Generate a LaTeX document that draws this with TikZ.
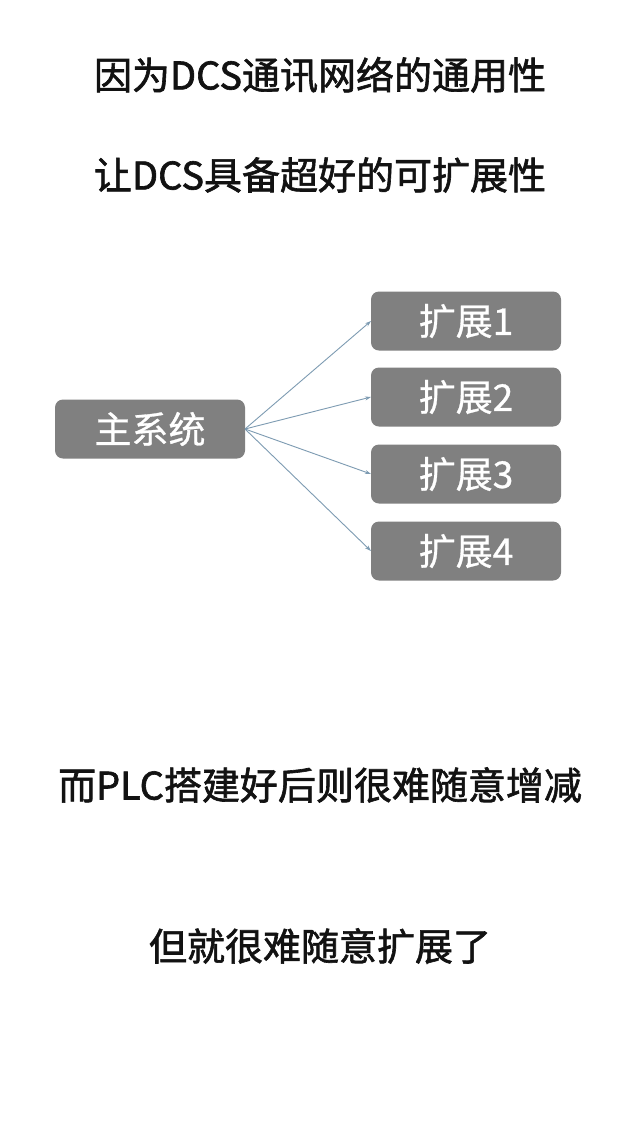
\documentclass[tikz,border=0pt]{standalone}
\usepackage{tikz}
\usepackage{tkz-graph}
\usepackage{xcolor}
\usepackage{fontspec}
\setmainfont{Noto Sans CJK SC}
\newfontfamily\headfont[FakeBold=1.6]{Noto Sans CJK SC}
\newfontfamily\boxfont[FakeBold=0.8]{Noto Sans CJK SC}
\usetikzlibrary{arrows.meta}
\definecolor{boxgray}{RGB}{128,128,128}
\definecolor{arrowblue}{RGB}{125,155,178}
\definecolor{textblack}{RGB}{18,18,18}

\begin{document}
\begin{tikzpicture}[x=1pt, y=-1pt,
	headline/.style={text=textblack, inner sep=0pt,
		font=\headfont\fontsize{38}{40}\selectfont}]
			\useasboundingbox[fill=white] (0,0) rectangle (640,1138);
			
			\node[headline] (line1) at (320,75) {因为DCS通讯网络的通用性};
			\node[headline] (line2) at (320,175) {让DCS具备超好的可扩展性};
			\node[headline] (line3) at (320,785) {而PLC搭建好后则很难随意增减};
			\node[headline] (line4) at (320,946) {但就很难随意扩展了};
			
			\SetVertexNormal[
			Shape 		= rectangle,
			LineWidth 	= 0pt,
			FillColor 	= boxgray,
			TextColor 	= white]
			\tikzset{VertexStyle/.append style={draw=none, rounded corners=8pt,
				minimum width=190pt, minimum height=59pt, inner sep=0pt,
				font=\boxfont\fontsize{37}{39}\selectfont}}
			\SetUpEdge[
			lw 		= 0.9pt,
			color 	= arrowblue]
			\tikzset{EdgeStyle/.append style={-{Stealth[length=6pt, width=4pt]}}}
			
			\Vertex[x=150, y=429, L={主系统}]{main}
			\Vertex[x=466, y=321, L={扩展1}]{ext1}
			\Vertex[x=466, y=397, L={扩展2}]{ext2}
			\Vertex[x=466, y=474, L={扩展3}]{ext3}
			\Vertex[x=466, y=551, L={扩展4}]{ext4}
			
			\Edges(main.east,ext1.west)
			\Edges(main.east,ext2.west)
			\Edges(main.east,ext3.west)
			\Edges(main.east,ext4.west)
\end{tikzpicture}
\end{document}
